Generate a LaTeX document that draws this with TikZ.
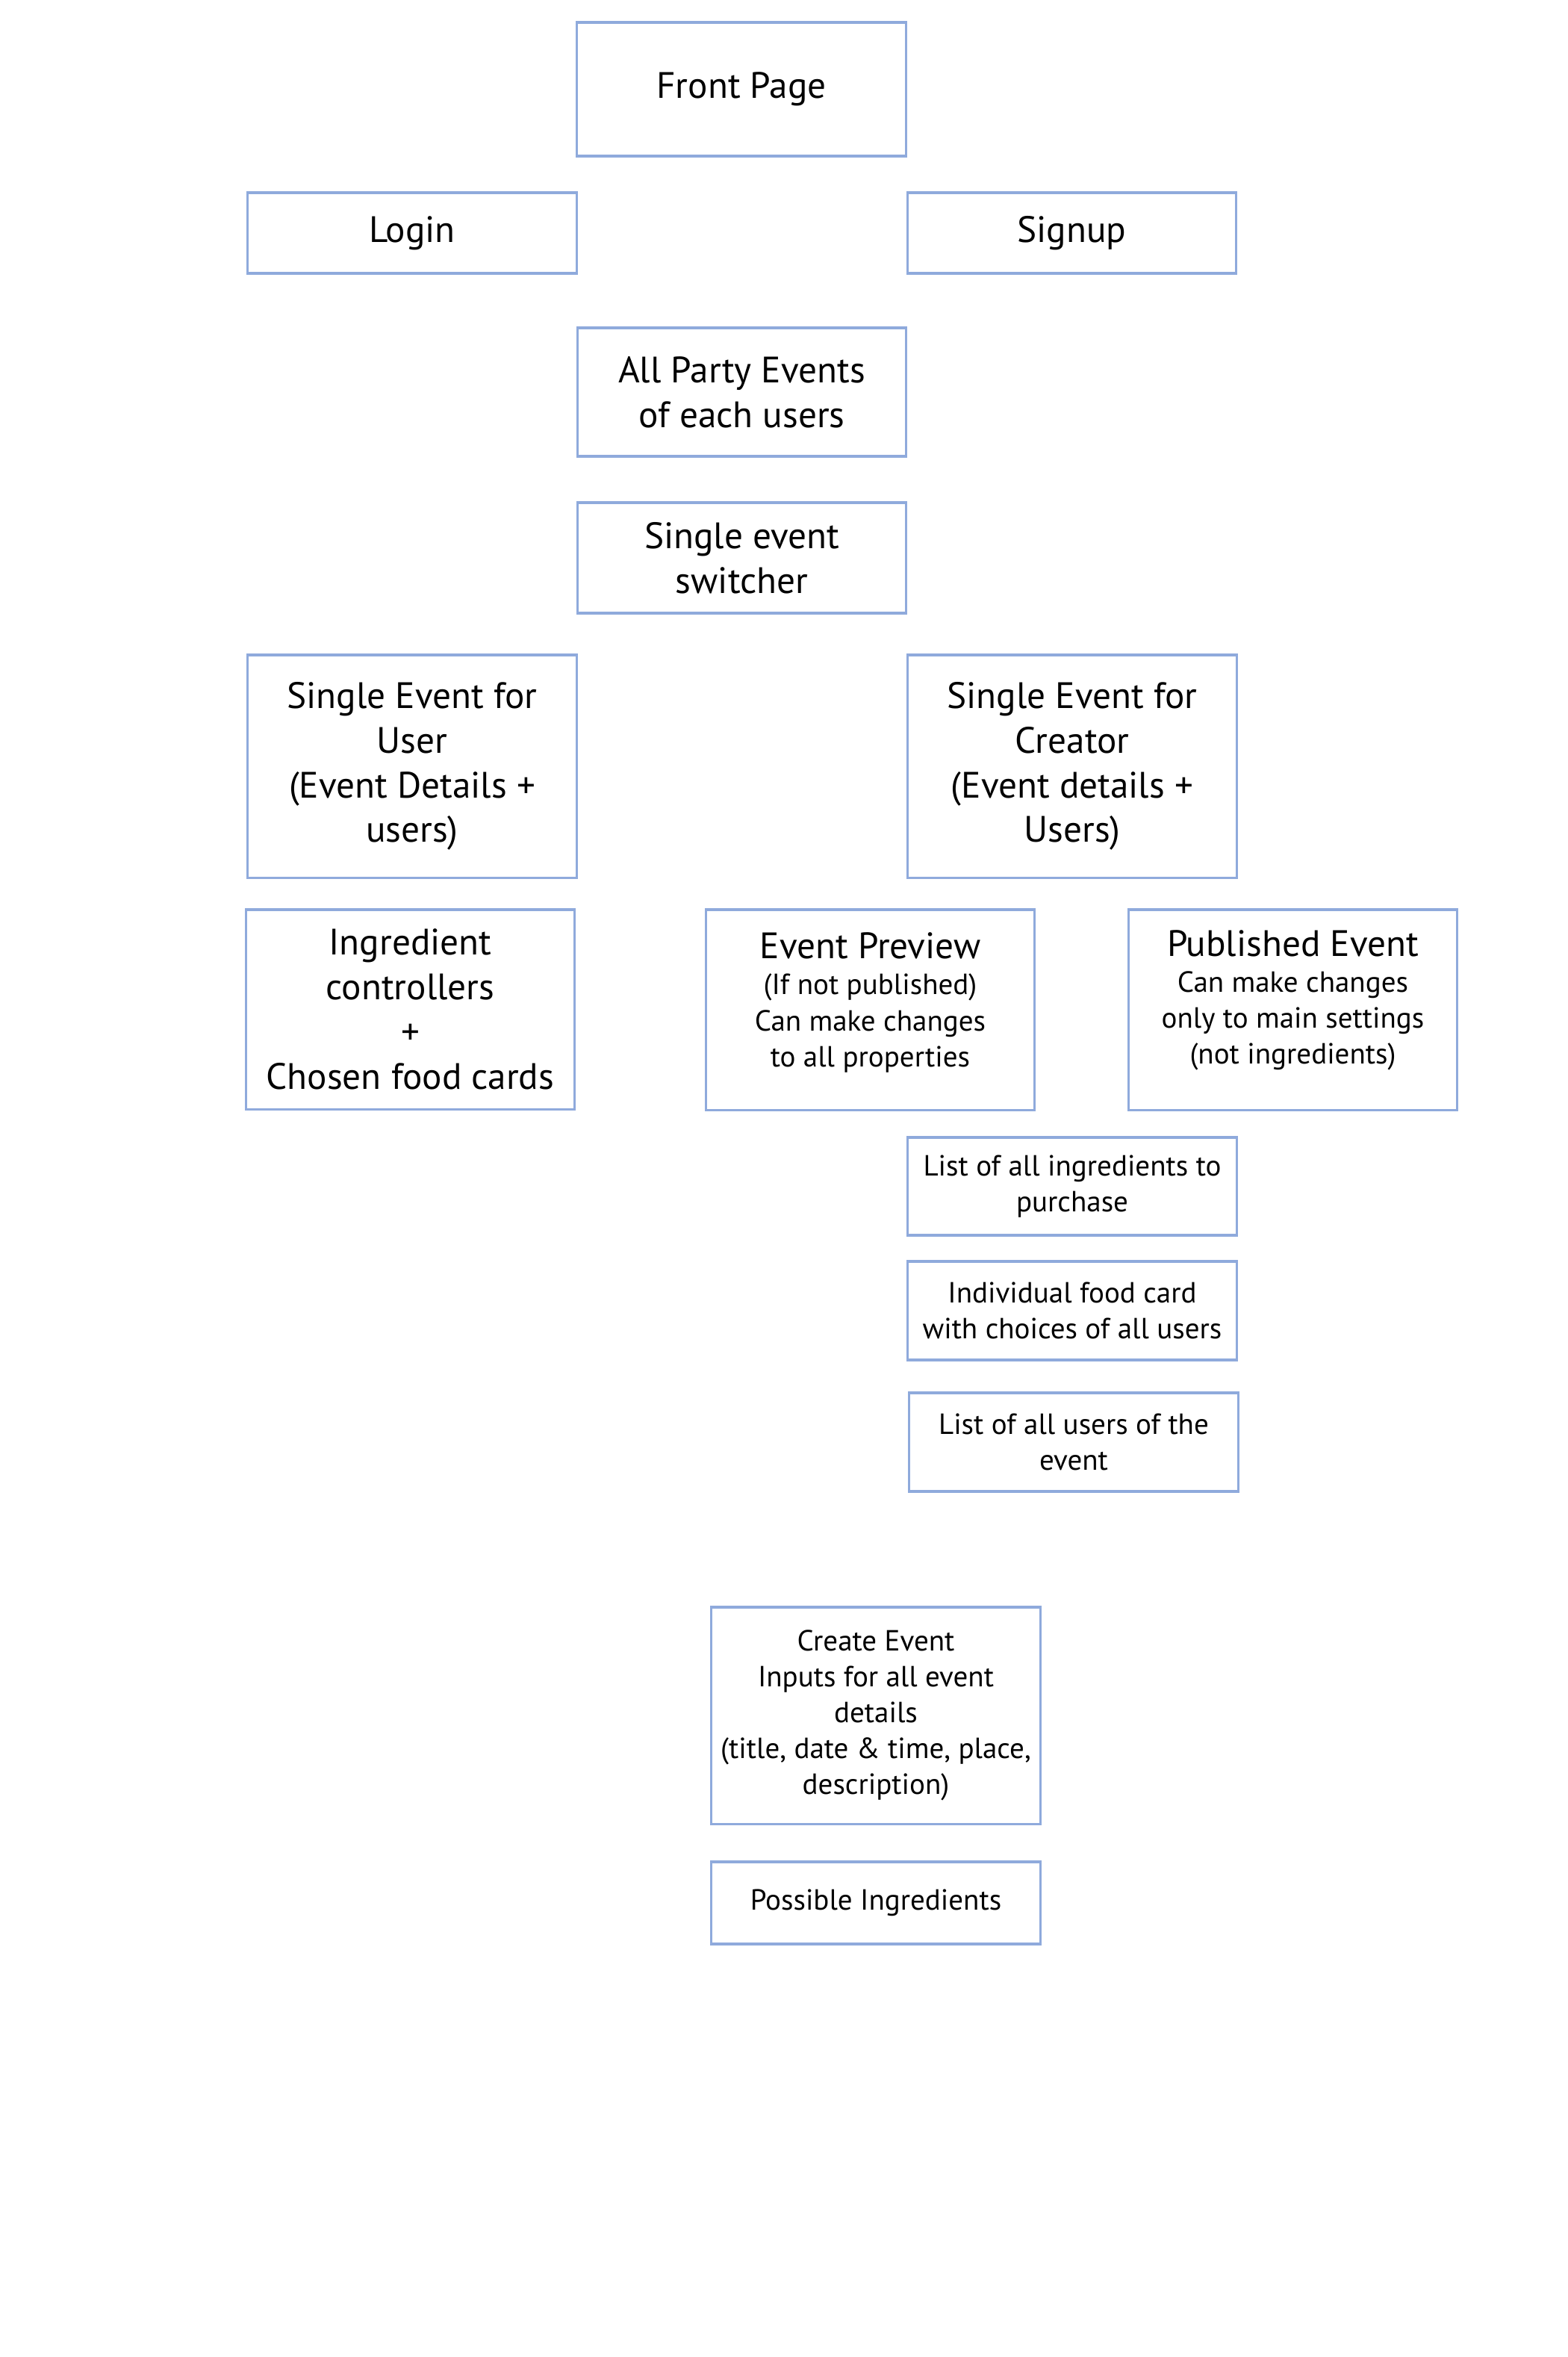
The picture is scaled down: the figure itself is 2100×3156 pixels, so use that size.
\documentclass[tikz,border=0pt]{standalone}
\usepackage{fontspec}
\setmainfont{PT Sans}
\definecolor{boxblue}{HTML}{8FAADC}

\begin{document}
\begin{tikzpicture}[x=0.01cm, y=-0.01cm,
	page/.style={draw=boxblue, line width=0.9pt, align=center, minimum width=4.4cm, inner sep=2pt},
	bigtext/.style={font=\fontsize{14}{17}\selectfont},
	smalltext/.style={font=\fontsize{11.1}{13.7}\selectfont}]
	\fill[white] (0,0) rectangle (2100,3156);
	\useasboundingbox (0,0) rectangle (2100,3156);

	% entry pages
	\node[page, bigtext, minimum height=1.79cm] (front) at (993,119.5) {Front Page};
	\node[page, bigtext, minimum height=1.08cm] (login) at (552,312) {Login};
	\node[page, bigtext, minimum height=1.08cm] (signup) at (1435.5,312) {Signup};
	\node[page, bigtext, minimum height=1.72cm] (allevents) at (993.5,525) {All Party Events\\of each users};
	\node[page, bigtext, minimum height=1.48cm] (switcher) at (993.5,747) {Single event\\switcher};

	% single event views
	\node[page, bigtext, minimum height=2.98cm] (userevent) at (552,1026)
		{Single Event for\\User\\(Event Details +\\users)};
	\node[page, bigtext, minimum height=2.98cm] (creatorevent) at (1436,1026)
		{Single Event for\\Creator\\(Event details +\\Users)};
	\node[page, bigtext, minimum height=2.67cm] (ingredients) at (549.5,1351.5)
		{Ingredient\\controllers\\+\\Chosen food cards};
	\node[page, smalltext, minimum height=2.68cm] (preview) at (1165.5,1352)
		{{\fontsize{14}{17}\selectfont Event Preview}\\(If not published)\\Can make changes\\to all properties\\[-6pt]};
	\node[page, smalltext, minimum height=2.68cm] (published) at (1731.5,1352)
		{{\fontsize{14}{17}\selectfont Published Event}\\Can make changes\\only to main settings\\(not ingredients)\\[-4pt]};

	% creator details
	\node[page, smalltext, minimum height=1.31cm] (purchase) at (1436,1588.5)
		{List of all ingredients to\\purchase};
	\node[page, smalltext, minimum height=1.32cm] (foodcard) at (1436,1755)
		{Individual food card\\with choices of all users};
	\node[page, smalltext, minimum height=1.32cm] (userlist) at (1438,1931)
		{List of all users of the\\event};

	% creating an event
	\node[page, smalltext, minimum height=2.9cm] (create) at (1173,2297)
		{Create Event\\Inputs for all event\\details\\(title, date \& time, place,\\description)};
	\node[page, smalltext, minimum height=1.1cm] (possible) at (1173,2548) {Possible Ingredients};
\end{tikzpicture}
\end{document}
